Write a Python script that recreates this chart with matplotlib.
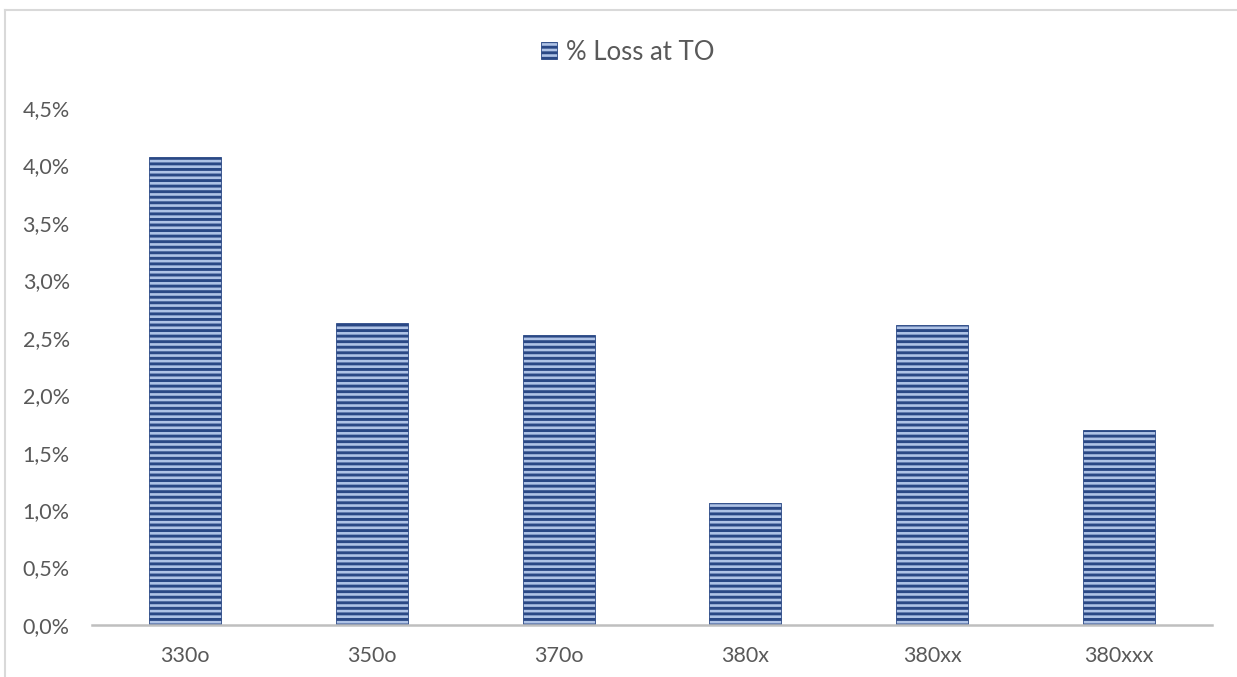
import matplotlib
matplotlib.use("Agg")
import matplotlib.pyplot as plt
from matplotlib.lines import Line2D
from matplotlib.ticker import FuncFormatter, MultipleLocator

categories = ["330o", "350o", "370o", "380x", "380xx", "380xxx"]
loss_at_to = [0.0407, 0.0263, 0.0252, 0.0106, 0.0261, 0.0170]
series_name = "% Loss at TO"

plt.rcParams['font.family'] = ['Lato', 'DejaVu Sans']
plt.rcParams['hatch.linewidth'] = 2.1

W, H = 1237, 677
fig = plt.figure(figsize=(W / 100, H / 100), dpi=100)
ax = fig.add_axes([92 / W, 1 - 625 / H, (1212 - 92) / W, (625 - 108) / H])

x = range(len(categories))
bars = ax.bar(x, loss_at_to, width=0.386, color='#AFC3E6', edgecolor='#2A4885',
              hatch='---', linewidth=0.6, label=series_name, zorder=2)

ax.set_xlim(-0.5, len(categories) - 0.5)
ax.set_ylim(0, 0.045)
ax.yaxis.set_major_locator(MultipleLocator(0.005))
ax.yaxis.set_major_formatter(FuncFormatter(lambda v, p: f"{v * 100:.1f}%".replace(".", ",")))
ax.set_xticks(list(x))
ax.set_xticklabels(categories)

for s in ['top', 'right', 'left']:
    ax.spines[s].set_visible(False)
ax.spines['bottom'].set_color('#BFBFBF')
ax.spines['bottom'].set_linewidth(1.8)
ax.tick_params(axis='both', length=0, labelsize=15.5, colors='#595959')
ax.tick_params(axis='y', pad=16)
ax.tick_params(axis='x', pad=15)

leg = fig.legend(handles=[bars], labels=[series_name], loc='center',
                 bbox_to_anchor=(628 / W, 1 - 52 / H), frameon=False,
                 fontsize=18.5, labelcolor='#595959', handlelength=0.62,
                 handleheight=0.62, handletextpad=0.35)

# outer chart border (only left and top visible in the crop)
fig.add_artist(Line2D([5 / W, 5 / W], [0, 1 - 10 / H], color='#D9D9D9', lw=1.5))
fig.add_artist(Line2D([5 / W, 1], [1 - 10 / H, 1 - 10 / H], color='#D9D9D9', lw=1.5))

fig.savefig("out.png", dpi=100)
